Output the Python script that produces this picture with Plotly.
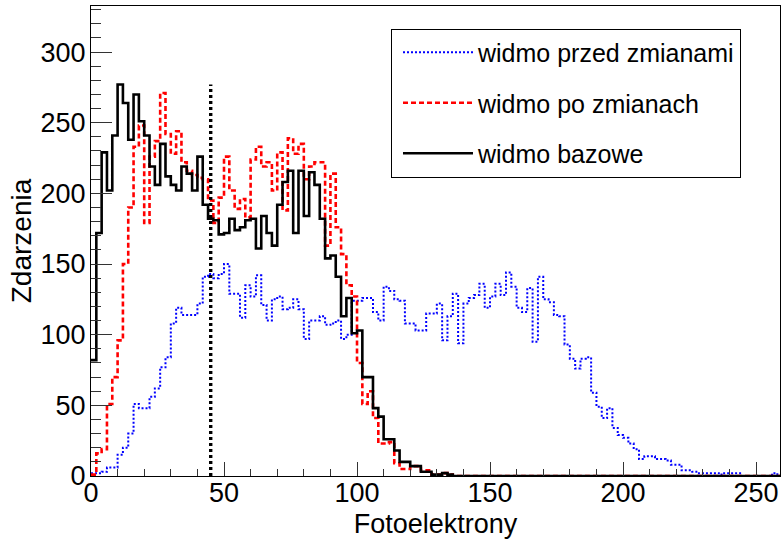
import plotly.graph_objects as go

# ---- data (histogram contents, bin width 2 photoelectrons, range 0-260) ----
BIN_WIDTH = 2
before_changes = [2, 2, 3, 6, 6, 15, 20, 30, 51, 48,
                  48, 56, 62, 77, 84, 108, 119, 114, 114, 114,
                  122, 141, 143, 140, 143, 150, 129, 129, 112, 135,
                  127, 142, 121, 110, 125, 127, 118, 119, 125, 118,
                  97, 110, 110, 113, 107, 108, 110, 97, 100, 124,
                  124, 126, 126, 116, 110, 134, 131, 125, 124, 108,
                  108, 103, 103, 115, 115, 122, 96, 113, 129, 94,
                  122, 126, 128, 136, 119, 127, 136, 128, 144, 134,
                  119, 116, 133, 95, 141, 125, 123, 114, 113, 93,
                  83, 76, 83, 84, 59, 49, 41, 48, 34, 29,
                  27, 23, 19, 12, 14, 14, 12, 12, 11, 8,
                  8, 4, 4, 3, 2, 2, 2, 2, 1, 2,
                  2, 2, 0, 0, 0, 0, 0, 0, 2, 0]

after_changes = [1, 16, 19, 51, 70, 96, 150, 190, 233, 248,
                 179, 226, 237, 271, 242, 228, 244, 222, 216, 213,
                 211, 210, 195, 179, 197, 226, 202, 189, 196, 183,
                 224, 233, 219, 222, 202, 229, 188, 239, 228, 235,
                 210, 219, 222, 222, 163, 214, 176, 157, 135, 127,
                 80, 51, 60, 41, 23, 23, 24, 9, 5, 5,
                 7, 7, 4, 4, 1, 1, 2, 1, 0, 0,
                 0, 0, 0, 0, 0, 0, 0, 0, 0, 0,
                 0, 0, 0, 0, 0, 0, 0, 0, 0, 0,
                 0, 0, 0, 0, 0, 0, 0, 0, 0, 0,
                 0, 0, 0, 0, 0, 0, 0, 0, 0, 0,
                 0, 0, 0, 0, 0, 0, 0, 0, 0, 0,
                 0, 0, 0, 0, 0, 0, 0, 0, 0, 0]

baseline = [82, 172, 229, 202, 241, 277, 264, 238, 270, 251,
            241, 219, 206, 235, 212, 206, 202, 219, 214, 202,
            226, 192, 182, 181, 171, 172, 182, 174, 176, 181,
            182, 161, 184, 172, 163, 192, 208, 216, 172, 216,
            184, 215, 206, 182, 154, 156, 141, 113, 126, 101,
            103, 70, 70, 48, 42, 26, 26, 18, 10, 10,
            7, 7, 3, 3, 1, 1, 2, 1, 0, 0,
            0, 0, 0, 0, 0, 0, 0, 0, 0, 0,
            0, 0, 0, 0, 0, 0, 0, 0, 0, 0,
            0, 0, 0, 0, 0, 0, 0, 0, 0, 0,
            0, 0, 0, 0, 0, 0, 0, 0, 0, 0,
            0, 0, 0, 0, 0, 0, 0, 0, 0, 0,
            0, 0, 0, 0, 0, 0, 0, 0, 0, 0]

series_names = ["widmo przed zmianami", "widmo po zmianach", "widmo bazowe"]
cut_x = [45, 45]
cut_y = [0, 277]
x_title = "Fotoelektrony"
y_title = "Zdarzenia"
x_range = [0, 259]
y_range = [0, 332.6]

FONT = "Liberation Sans, Arial, Helvetica, sans-serif"


def step_xy(vals):
    xs = [i * BIN_WIDTH for i in range(len(vals) + 1)]
    ys = list(vals) + [vals[-1]]
    return xs, ys


fig = go.Figure()
styles = [
    dict(color="#0000ff", width=2.0, dash="2px,2px"),
    dict(color="#ff0000", width=2.6, dash="5px,3px"),
    dict(color="#000000", width=2.6, dash="solid"),
]
for i, (vals, name, st) in enumerate(zip([before_changes, after_changes, baseline],
                                         series_names, styles)):
    xs, ys = step_xy(vals)
    fig.add_trace(go.Scatter(x=xs, y=ys, mode="lines", name=name,
                             line=dict(shape="hv", **st),
                             legendgroup=f"g{i}", hoverinfo="skip"))

fig.add_trace(go.Scatter(x=cut_x, y=cut_y, mode="lines", showlegend=False,
                         line=dict(color="black", width=3.4, dash="3px,3px"),
                         hoverinfo="skip"))

axis_common = dict(showline=True, linecolor="black", linewidth=1, mirror=True,
                   ticks="inside", tickcolor="#333333", tickwidth=1,
                   showgrid=False, zeroline=False, ticklabelposition="outside",
                   tickfont=dict(family=FONT, size=27, color="black"))

fig.update_xaxes(range=x_range, tickmode="linear", tick0=0, dtick=50, ticklen=14,
                 minor=dict(dtick=10, ticklen=7, ticks="inside", tickcolor="#333333"),
                 ticklabelstandoff=-7,
                 title=dict(text=x_title, font=dict(family=FONT, size=27, color="black"),
                            standoff=7),
                 **axis_common)
fig.update_yaxes(range=y_range, tickmode="linear", tick0=0, dtick=50, ticklen=21,
                 minor=dict(dtick=10, ticklen=10, ticks="inside", tickcolor="#333333"),
                 ticklabelstandoff=-1,
                 title=dict(text=y_title, font=dict(family=FONT, size=28, color="black"),
                            standoff=0),
                 **axis_common)

fig.update_layout(
    width=781, height=539,
    margin=dict(l=91, r=1, t=6, b=63),
    paper_bgcolor="white", plot_bgcolor="white",
    legend=dict(x=0.4354, y=0.952, xanchor="left", yanchor="top",
                bgcolor="white", bordercolor="black", borderwidth=1,
                font=dict(family=FONT, size=25, color="black"),
                tracegroupgap=15, itemwidth=70, indentation=6),
)

fig.write_html("out.html")
